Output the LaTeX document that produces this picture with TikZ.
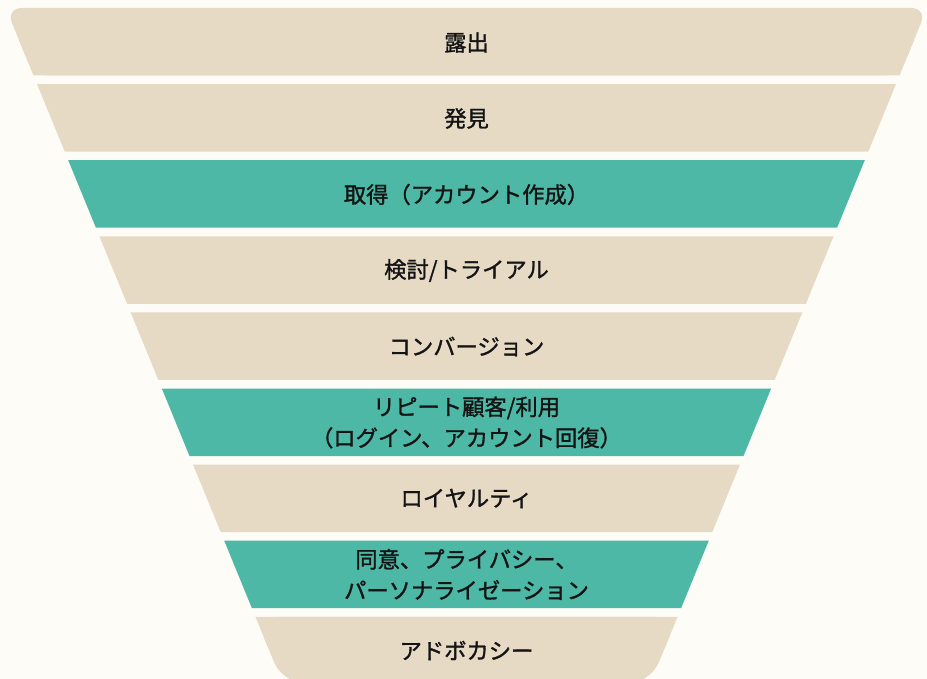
\documentclass[tikz,border=0pt]{standalone}
\usepackage{fontspec}
\newfontfamily\jp[FakeBold=1.3]{Noto Sans CJK JP}
\definecolor{bgcol}{HTML}{FDFCF7}
\definecolor{tancol}{HTML}{E6DAC5}
\definecolor{tealcol}{HTML}{4DB8A5}
\definecolor{txtcol}{HTML}{141414}
\tikzset{
  lbl/.style={font=\jp\fontsize{22.3}{31}\selectfont, text=txtcol, align=center, inner sep=0pt}
}
\begin{document}
\begin{tikzpicture}[x=1pt,y=-1pt]
\useasboundingbox (0,0) rectangle (927,679);
\fill[bgcol] (0,0) rectangle (927,679);
\begin{scope}
\clip (0,0) rectangle (927,679);
% middle bands
\foreach \i/\col in {1/tancol,2/tealcol,3/tancol,4/tancol,5/tealcol,6/tancol,7/tealcol}{
  \pgfmathsetmacro\fty{8+76.1*\i}
  \pgfmathsetmacro\fby{\fty+67.5}
  \pgfmathsetmacro\fht{463.95-0.41*\fty}
  \pgfmathsetmacro\fhb{463.95-0.41*\fby}
  \fill[\col] ({466.5-\fht},\fty) -- ({466.5+\fht},\fty) -- ({466.5+\fhb},\fby) -- ({466.5-\fhb},\fby) -- cycle;
}
% top band (rounded top corners)
\pgfmathsetmacro\fty{8}
\pgfmathsetmacro\fby{75.5}
\pgfmathsetmacro\fmy{40}
\pgfmathsetmacro\fht{463.95-0.41*\fty}
\pgfmathsetmacro\fhb{463.95-0.41*\fby}
\pgfmathsetmacro\fhm{463.95-0.41*\fmy}
\fill[tancol, rounded corners=16] ({466.5-\fht},\fty) -- ({466.5+\fht},\fty) -- ({466.5+\fhb},\fby) -- ({466.5-\fhb},\fby) -- cycle;
\fill[tancol] ({466.5-\fhm},\fmy) -- ({466.5+\fhm},\fmy) -- ({466.5+\fhb},\fby) -- ({466.5-\fhb},\fby) -- cycle;
% bottom band (rounded bottom corners)
\pgfmathsetmacro\fty{616.8}
\pgfmathsetmacro\fby{684.3}
\pgfmathsetmacro\fmy{648}
\pgfmathsetmacro\fht{463.95-0.41*\fty}
\pgfmathsetmacro\fhb{463.95-0.41*\fby}
\pgfmathsetmacro\fhm{463.95-0.41*\fmy}
\fill[tancol, rounded corners=24] ({466.5-\fht},\fty) -- ({466.5+\fht},\fty) -- ({466.5+\fhb},\fby) -- ({466.5-\fhb},\fby) -- cycle;
\fill[tancol] ({466.5-\fht},\fty) -- ({466.5+\fht},\fty) -- ({466.5+\fhm},\fmy) -- ({466.5-\fhm},\fmy) -- cycle;
\end{scope}
% labels
\node[lbl] (l1) at (466.5, 42.5) {露出};
\node[lbl] (l2) at (466.5, 118.5) {発見};
\node[lbl] (l3) at (466.5, 194.5) {取得（アカウント作成）};
\node[lbl] (l4) at (466.5, 270.5) {検討/トライアル};
\node[lbl] (l5) at (466.5, 346.5) {コンバージョン};
\node[lbl] (l6) at (466.5, 422.5) {リピート顧客/利用\\（ログイン、アカウント回復）};
\node[lbl] (l7) at (466.5, 498.5) {ロイヤルティ};
\node[lbl] (l8) at (466.5, 574.5) {同意、プライバシー、\\パーソナライゼーション};
\node[lbl] (l9) at (466.5, 650.5) {アドボカシー};
\end{tikzpicture}
\end{document}
